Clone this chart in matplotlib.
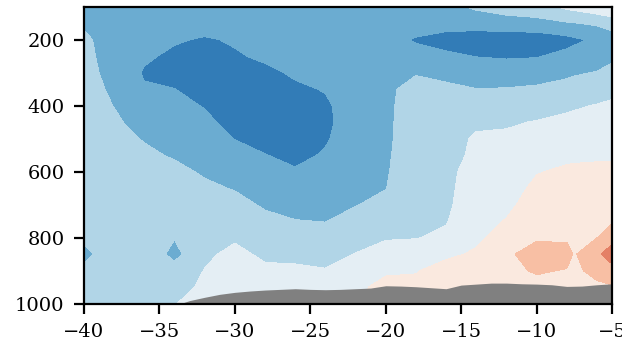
import numpy as np
import matplotlib
matplotlib.use("Agg")
import matplotlib.pyplot as plt

plt.rcParams["font.family"] = ["DejaVu Serif"]
plt.rcParams["font.size"] = 7

# Pressure levels (hPa) and longitudes (deg) of the cross-section grid
plev = [100, 150, 200, 250, 300, 350, 400, 450, 500, 550,
        600, 650, 700, 750, 800, 850, 900, 950, 1000]
lon = [-40, -38, -36, -34, -32, -30, -28, -26, -24, -22,
       -20, -18, -16, -14, -12, -10, -8, -7.5, -6, -5]

# Anomaly profiles, one list per longitude (top to bottom in pressure)
anom_cols = [
    [-2.4, -2.15, -1.8, -1.75, -1.7, -1.65, -1.6, -1.55, -1.5, -1.5, -1.5, -1.5, -1.5, -1.55, -1.85, -2.25, -1.8, -1.6, -1.55],
    [-2.5, -2.5, -2.5, -2.4, -2.3, -2.15, -2.02, -1.85, -1.75, -1.65, -1.6, -1.55, -1.5, -1.5, -1.5, -1.45, -1.5, -1.5, -1.5],
    [-2.45, -2.55, -2.65, -2.85, -3.1, -2.9, -2.6, -2.35, -2.05, -1.85, -1.7, -1.6, -1.55, -1.5, -1.45, -1.3, -1.4, -1.4, -1.35],
    [-2.4, -2.6, -2.9, -3.2, -3.4, -2.98, -2.75, -2.5, -2.3, -2.08, -1.8, -1.65, -1.6, -1.65, -1.95, -2.3, -1.6, -1.3, -1.02],
    [-2.35, -2.6, -3.1, -3.5, -3.6, -3.4, -3.05, -2.8, -2.6, -2.35, -2.1, -1.85, -1.65, -1.5, -1.35, -1.15, -0.97, -0.85, -0.8],
    [-2.3, -2.6, -2.9, -3.1, -3.5, -3.6, -3.5, -3.3, -3.02, -2.7, -2.4, -2.05, -1.75, -1.45, -1.1, -0.8, -0.7, -0.6, -0.6],
    [-2.25, -2.5, -2.75, -2.85, -3.2, -3.5, -3.6, -3.5, -3.3, -2.97, -2.75, -2.45, -2.1, -1.8, -1.45, -1.15, -0.85, -0.75, -0.7],
    [-2.2, -2.45, -2.65, -2.8, -2.88, -3.15, -3.4, -3.5, -3.45, -3.25, -2.9, -2.6, -2.3, -1.97, -1.6, -1.15, -0.9, -0.8, -0.75],
    [-2.2, -2.4, -2.6, -2.75, -2.85, -2.95, -3.15, -3.2, -3.1, -2.9, -2.7, -2.5, -2.3, -2.02, -1.7, -1.3, -0.95, -0.85, -0.8],
    [-2.15, -2.3, -2.45, -2.55, -2.55, -2.55, -2.5, -2.5, -2.45, -2.4, -2.3, -2.2, -2.03, -1.75, -1.4, -0.97, -0.6, -0.15, -0.1],
    [-2.1, -2.25, -2.6, -2.45, -2.2, -2.15, -2.15, -2.15, -2.15, -2.12, -2.08, -2.02, -1.8, -1.5, -1.05, -0.75, -0.1, 0.2, 0.25],
    [-2.2, -2.5, -3.1, -2.65, -2.05, -1.75, -1.65, -1.6, -1.55, -1.5, -1.45, -1.4, -1.35, -1.25, -1.03, -0.6, -0.05, 0.2, 0.25],
    [-2.3, -2.7, -3.3, -2.85, -2.2, -1.85, -1.7, -1.6, -1.45, -1.35, -1.25, -1.2, -1.15, -1.05, -0.85, -0.15, 0.3, 0.4, 0.4],
    [-1.85, -2.6, -3.5, -3.02, -2.45, -1.98, -1.6, -1.2, -0.85, -0.8, -0.6, -0.55, -0.5, -0.35, -0.15, 0.1, 0.3, 0.45, 0.5],
    [-1.6, -2.4, -3.6, -3.1, -2.5, -1.95, -1.6, -1.1, -0.85, -0.7, -0.55, -0.4, -0.2, 0.05, 0.3, 0.8, 0.75, 0.75, 0.8],
    [-1.45, -2.3, -3.6, -3.05, -2.45, -1.85, -1.4, -0.95, -0.75, -0.4, -0.05, 0.2, 0.4, 0.55, 0.85, 1.5, 1.1, 0.7, 0.7],
    [-0.8, -2.1, -3.3, -2.75, -2.2, -1.65, -1.15, -0.8, -0.5, -0.2, 0.15, 0.35, 0.5, 0.65, 0.85, 1.35, 0.95, 0.7, 0.7],
    [-0.7, -2.05, -3.15, -2.7, -2.1, -1.6, -1.1, -0.75, -0.45, -0.15, 0.15, 0.35, 0.5, 0.65, 0.8, 0.9, 0.8, 0.6, 0.6],
    [-0.35, -1.85, -2.85, -2.5, -1.95, -1.45, -0.95, -0.7, -0.4, -0.1, 0.15, 0.35, 0.5, 0.7, 0.98, 1.8, 1.3, 0.8, 0.8],
    [-0.2, -1.5, -2.6, -2.2, -1.7, -1.25, -0.85, -0.6, -0.35, -0.08, 0.15, 0.35, 0.55, 0.9, 1.7, 2.45, 1.7, 0.9, 0.85],
]

# Surface pressure along the section (terrain mask)
topo_lon = [-33.6, -33, -32, -31, -30, -29, -28, -27, -26, -25, -24, -23, -22, -21,
            -20, -19, -18, -17, -16, -15, -14, -13, -12, -11, -10, -9, -8, -7, -6, -5]
topo_ps = [1000, 991, 981, 972, 966, 962, 959, 957, 955, 957, 958, 957, 955, 953,
           946, 947, 949, 952, 955, 944, 941, 938, 938, 940, 941, 943, 948, 947, 943, 940]

levels = np.arange(-5, 6, 1)

field = np.array(anom_cols).T
X, P = np.meshgrid(lon, plev)

fig = plt.figure(figsize=(3.11, 1.715), dpi=200)
ax = fig.add_axes([0.135, 0.115, 0.849, 0.865])

ax.contourf(X, P, field, levels=levels, cmap="RdBu_r", vmin=-5, vmax=5)
ax.fill_between(topo_lon, topo_ps, 1000, color="gray", linewidth=0)

ax.set_xlim(-40, -5)
ax.set_ylim(1000, 100)
ax.set_xticks([-40, -35, -30, -25, -20, -15, -10, -5])
ax.set_yticks([200, 400, 600, 800, 1000])

fig.savefig("out.png", dpi=200)
